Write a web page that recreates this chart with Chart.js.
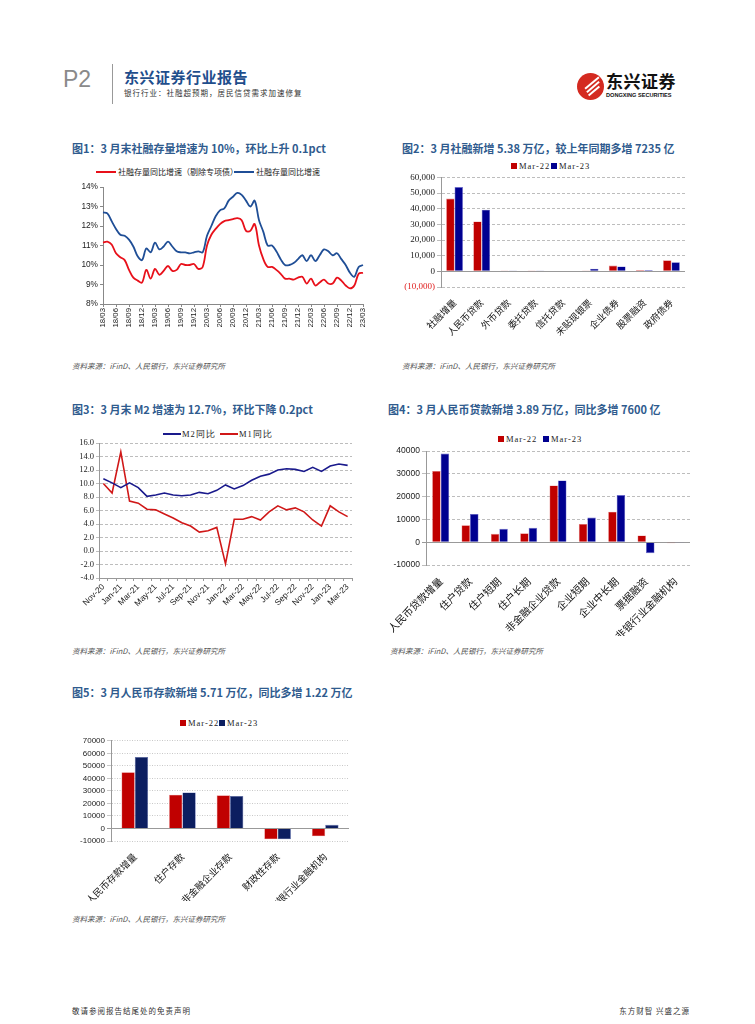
<!DOCTYPE html>
<html>
<head>
<meta charset="utf-8">
<script src="https://cdn.jsdelivr.net/npm/chart.js@4.4.0/dist/chart.umd.min.js"></script>
<style>
body { margin:0; width:755px; height:1024px; background:#fff; position:relative; overflow:hidden;
       font-family:"Noto Sans CJK SC","Noto Sans",sans-serif; }
.title { position:absolute; color:#2F5B8E; font-weight:bold; font-size:11px; white-space:nowrap; line-height:1; }
.src { position:absolute; font-size:7.5px; color:#555; font-style:italic; white-space:nowrap; line-height:1; }
.box { position:absolute; }
.leg { position:absolute; font-size:8px; color:#222; white-space:nowrap; line-height:1; }
.legSer { position:absolute; font-family:"Liberation Serif",serif; font-size:8.5px; letter-spacing:1px; color:#222; white-space:nowrap; line-height:1; }
.sw { position:absolute; }
</style>
</head>
<body>

<!-- header -->
<div style="position:absolute;left:63px;top:66px;font-family:'Liberation Sans',sans-serif;font-size:23px;color:#8a8a8a;">P2</div>
<div style="position:absolute;left:112px;top:64px;width:1px;height:40px;background:#999;"></div>
<div style="position:absolute;left:124px;top:69px;font-size:15px;font-weight:bold;color:#1F4E8C;letter-spacing:0.5px;line-height:1;">东兴证券行业报告</div>
<div style="position:absolute;left:124px;top:89px;font-size:7.5px;color:#333;letter-spacing:1px;line-height:1;">银行行业：社融超预期，居民信贷需求加速修复</div>
<div style="position:absolute;left:577px;top:73px;width:27px;height:27px;border-radius:50%;background:#D42A20;overflow:hidden;">
  <div style="position:absolute;left:6px;top:9px;width:18px;height:2px;background:#fff;transform:rotate(-40deg);"></div>
  <div style="position:absolute;left:8px;top:13px;width:16px;height:2px;background:#fff;transform:rotate(-40deg);"></div>
  <div style="position:absolute;left:10px;top:17px;width:14px;height:2px;background:#fff;transform:rotate(-40deg);"></div>
</div>
<div style="position:absolute;left:606px;top:72px;font-size:17px;font-weight:bold;color:#111;line-height:1;letter-spacing:0.5px;">东兴证券</div>
<div style="position:absolute;left:606px;top:93px;font-family:'Liberation Sans',sans-serif;font-size:5.6px;font-weight:bold;color:#111;line-height:1;">DONGXING SECURITIES</div>

<!-- chart 1 -->
<div class="title" style="left:72px;top:143px;">图1：3 月末社融存量增速为 10%，环比上升 0.1pct</div>
<div class="sw" style="left:96px;top:171px;width:20px;height:2px;background:#E8101A;"></div>
<div class="leg" style="left:118px;top:168px;">社融存量同比增速（剔除专项债）</div>
<div class="sw" style="left:234px;top:171px;width:20px;height:2px;background:#1F4E96;"></div>
<div class="leg" style="left:256px;top:168px;">社融存量同比增速</div>
<div class="box" style="left:60px;top:180px;width:315px;height:160px;"><canvas id="c1"></canvas></div>
<div class="src" style="left:72px;top:362px;">资料来源：iFinD、人民银行，东兴证券研究所</div>

<!-- chart 2 -->
<div class="title" style="left:402px;top:143px;">图2：3 月社融新增 5.38 万亿，较上年同期多增 7235 亿</div>
<div class="sw" style="left:511px;top:163px;width:6px;height:6px;background:#C00000;"></div>
<div class="legSer" style="left:519px;top:162px;">Mar-22</div>
<div class="sw" style="left:551px;top:163px;width:6px;height:6px;background:#000090;"></div>
<div class="legSer" style="left:559px;top:162px;">Mar-23</div>
<div class="box" style="left:380px;top:170px;width:330px;height:170px;"><canvas id="c2"></canvas></div>
<div class="src" style="left:402px;top:362px;">资料来源：iFinD、人民银行，东兴证券研究所</div>

<!-- chart 3 -->
<div class="title" style="left:72px;top:404px;">图3：3 月末 M2 增速为 12.7%，环比下降 0.2pct</div>
<div class="sw" style="left:163px;top:433px;width:18px;height:2px;background:#1A1A8C;"></div>
<div class="legSer" style="left:182px;top:430px;">M2同比</div>
<div class="sw" style="left:220px;top:433px;width:18px;height:2px;background:#D01818;"></div>
<div class="legSer" style="left:239px;top:430px;">M1同比</div>
<div class="box" style="left:60px;top:436px;width:315px;height:195px;"><canvas id="c3"></canvas></div>
<div class="src" style="left:72px;top:647px;">资料来源：iFinD、人民银行，东兴证券研究所</div>

<!-- chart 4 -->
<div class="title" style="left:388px;top:404px;">图4：3 月人民币贷款新增 3.89 万亿，同比多增 7600 亿</div>
<div class="sw" style="left:498px;top:436px;width:6px;height:6px;background:#C00000;"></div>
<div class="legSer" style="left:506px;top:435px;">Mar-22</div>
<div class="sw" style="left:543px;top:436px;width:6px;height:6px;background:#000090;"></div>
<div class="legSer" style="left:551px;top:435px;">Mar-23</div>
<div class="box" style="left:380px;top:444px;width:330px;height:195px;"><canvas id="c4"></canvas></div>
<div class="src" style="left:390px;top:647px;">资料来源：iFinD、人民银行，东兴证券研究所</div>

<!-- chart 5 -->
<div class="title" style="left:72px;top:687px;">图5：3 月人民币存款新增 5.71 万亿，同比多增 1.22 万亿</div>
<div class="sw" style="left:180px;top:720px;width:6px;height:6px;background:#C00000;"></div>
<div class="legSer" style="left:188px;top:719px;">Mar-22</div>
<div class="sw" style="left:219px;top:720px;width:6px;height:6px;background:#0C1E60;"></div>
<div class="legSer" style="left:227px;top:719px;">Mar-23</div>
<div class="box" style="left:60px;top:734px;width:315px;height:170px;"><canvas id="c5"></canvas></div>
<div class="src" style="left:72px;top:915px;">资料来源：iFinD、人民银行，东兴证券研究所</div>

<!-- footer -->
<div style="position:absolute;left:72px;top:1007px;font-size:7.5px;color:#333;letter-spacing:1px;line-height:1;">敬请参阅报告结尾处的免责声明</div>
<div style="position:absolute;right:65px;top:1007px;font-size:7.5px;color:#333;letter-spacing:1px;line-height:1;">东方财智 兴盛之源</div>

<script>
// ---- chart 1: 社融存量同比增速 ----
const months1 = ["18/03","18/04","18/05","18/06","18/07","18/08","18/09","18/10","18/11","18/12",
  "19/01","19/02","19/03","19/04","19/05","19/06","19/07","19/08","19/09","19/10","19/11","19/12",
  "20/01","20/02","20/03","20/04","20/05","20/06","20/07","20/08","20/09","20/10","20/11","20/12",
  "21/01","21/02","21/03","21/04","21/05","21/06","21/07","21/08","21/09","21/10","21/11","21/12",
  "22/01","22/02","22/03","22/04","22/05","22/06","22/07","22/08","22/09","22/10","22/11","22/12",
  "23/01","23/02","23/03"];
const tsfExSpecial = [11.15,11.2,11.05,10.6,10.4,10.25,9.75,9.35,9.2,9.1,
  9.75,9.3,9.8,9.5,9.7,9.95,9.7,9.75,10.05,10.0,
  10.0,10.05,9.8,9.9,11.0,11.55,11.85,12.1,12.25,12.3,
  12.35,12.4,12.3,11.75,11.75,12.1,11.0,10.3,9.9,9.9,
  9.75,9.55,9.3,9.3,9.25,9.35,9.4,9.05,9.3,8.95,
  9.1,9.25,9.05,9.05,9.35,9.2,8.95,8.8,8.95,9.55,9.6];
const tsfGrowth = [12.7,12.65,12.25,11.85,11.55,11.5,11.3,10.95,10.45,10.25,
  10.85,10.65,11.15,10.8,10.95,11.2,10.95,10.7,10.65,10.65,
  10.6,10.65,10.7,10.65,11.5,12.0,12.5,12.8,12.9,13.3,
  13.5,13.7,13.6,13.3,13.0,13.3,12.3,11.7,11.0,11.0,
  10.7,10.3,10.0,10.0,10.1,10.3,10.5,10.2,10.5,10.2,
  10.5,10.8,10.7,10.5,10.6,10.3,10.0,9.6,9.4,9.9,10.0];
const ticks1 = [8, 9, 10, 11, 12, 13, 14];

// ---- chart 2: 社融新增 ----
const cats2 = ["社融增量","人民币贷款","外币贷款","委托贷款","信托贷款","未贴现银票","企业债券","股票融资","政府债券"];
const tsfMar22 = [46500, 31900, 200, 100, -200, 200, 3700, 900, 7050];
const tsfMar23 = [53800, 39400, 600, 200, -200, 1700, 3100, 800, 5800];

// ---- chart 3: M2 / M1 ----
const months3 = ["Nov-20","Dec-20","Jan-21","Feb-21","Mar-21","Apr-21","May-21","Jun-21","Jul-21","Aug-21",
  "Sep-21","Oct-21","Nov-21","Dec-21","Jan-22","Feb-22","Mar-22","Apr-22","May-22","Jun-22","Jul-22",
  "Aug-22","Sep-22","Oct-22","Nov-22","Dec-22","Jan-23","Feb-23","Mar-23"];
const m2Yoy = [10.7,10.1,9.4,10.1,9.4,8.1,8.3,8.6,8.3,8.2,8.3,8.7,8.5,9.0,9.8,9.2,9.7,10.5,11.1,11.4,12.0,12.2,12.1,11.8,12.4,11.8,12.6,12.9,12.7];
const m1Yoy = [10.0,8.6,14.7,7.4,7.1,6.2,6.1,5.5,4.9,4.2,3.7,2.8,3.0,3.5,-1.9,4.7,4.7,5.1,4.6,5.8,6.7,6.1,6.4,5.8,4.6,3.7,6.7,5.8,5.1];

// ---- chart 4: 人民币贷款新增 ----
const cats4 = ["人民币贷款增量","住户贷款","住户短期","住户长期","非金融企业贷款","企业短期","企业中长期","票据融资","非银行业金融机构"];
const loanMar22 = [31300, 7500, 3700, 3900, 24900, 8000, 13400, 3000, -400];
const loanMar23 = [38900, 12400, 5900, 6300, 27100, 10800, 20700, -4800, -300];

// ---- chart 5: 人民币存款新增 ----
const cats5 = ["人民币存款增量","住户存款","非金融企业存款","财政性存款","非银行业金融机构"];
const depMar22 = [44900, 27000, 26500, -8700, -6300];
const depMar23 = [57100, 28800, 26000, -8600, 2900];

const RED = "#C00000", NAVY = "#000090";
const CJK = "'Noto Sans CJK SC', sans-serif";
const SANS = "'Liberation Sans', Arial, sans-serif";
const SERIF = "'Liberation Serif', 'Times New Roman', serif";

Chart.defaults.animation = false;
Chart.defaults.color = "#222";

function base(padding) {
    return {
        responsive: true,
        maintainAspectRatio: false,
        layout: { padding: padding },
        plugins: { legend: { display: false }, tooltip: { enabled: false } }
    };
}

// === Chart 1 ===
new Chart(document.getElementById("c1"), {
    type: "line",
    data: {
        labels: months1,
        datasets: [
            { data: tsfExSpecial, borderColor: "#E8101A", borderWidth: 1.8, pointRadius: 0, tension: 0.35 },
            { data: tsfGrowth, borderColor: "#1F4E96", borderWidth: 1.8, pointRadius: 0, tension: 0.35 }
        ]
    },
    options: {
        ...base({ left: 8, top: 7, right: 12, bottom: 6 }),
        scales: {
            x: {
                offset: false,
                afterFit: s => { s.height = 30; },
                grid: { drawOnChartArea: false, tickLength: 3,
                        color: c => (c.index % 3 === 0 ? "#888" : "rgba(0,0,0,0)") },
                border: { color: "#888" },
                ticks: { autoSkip: false, minRotation: 90, maxRotation: 90, padding: 1,
                         font: { family: SANS, size: 7.8 }, color: "#222",
                         callback: function (v, i) { return i % 3 === 0 ? months1[i] : ""; } }
            },
            y: {
                min: 8, max: 14,
                afterFit: s => { s.width = 35; },
                afterBuildTicks: s => { s.ticks = ticks1.map(v => ({ value: v })); },
                grid: { drawOnChartArea: false, tickLength: 3, color: "#888" },
                border: { color: "#888" },
                ticks: { autoSkip: false, padding: 2, font: { family: SANS, size: 8.3 }, color: "#222", callback: v => v + "%" }
            }
        }
    }
});

// === Chart 2 ===
new Chart(document.getElementById("c2"), {
    type: "bar",
    data: {
        labels: cats2,
        datasets: [
            { data: tsfMar22, backgroundColor: RED, borderColor: "#E68080", borderWidth: 0.6 },
            { data: tsfMar23, backgroundColor: NAVY, borderColor: "#6A6AD0", borderWidth: 0.6 }
        ]
    },
    options: {
        ...base({ left: 5, top: 5, right: 25, bottom: 3 }),
        datasets: { bar: { categoryPercentage: 0.62, barPercentage: 1.0 } },
        scales: {
            x: {
                afterFit: s => { s.height = 50; },
                grid: { display: false },
                border: { display: false },
                ticks: { autoSkip: false, minRotation: 45, maxRotation: 45, padding: 2,
                         font: { family: CJK, size: 9.3 }, color: "#111" }
            },
            y: {
                min: -10000, max: 60000,
                afterFit: s => { s.width = 56; },
                grid: { color: c => (c.tick && c.tick.value === 0 ? "#999" : "#BDBDBD"), tickLength: 4 },
                border: { color: "#999", dash: c => (c.tick && c.tick.value === 0 ? [] : [3, 2]) },
                ticks: { autoSkip: false, stepSize: 10000, padding: 2, font: { family: SERIF, size: 9 },
                         color: c => (c.tick.value < 0 ? "#E02020" : "#222"),
                         callback: v => v < 0 ? "(" + Math.abs(v).toLocaleString("en-US") + ")" : v.toLocaleString("en-US") }
            }
        }
    }
});

// === Chart 3 ===
new Chart(document.getElementById("c3"), {
    type: "line",
    data: {
        labels: months3,
        datasets: [
            { data: m2Yoy, borderColor: "#1A1A8C", borderWidth: 1.6, pointRadius: 0, tension: 0 },
            { data: m1Yoy, borderColor: "#D01818", borderWidth: 1.6, pointRadius: 0, tension: 0 }
        ]
    },
    options: {
        ...base({ left: 5, top: 6, right: 23, bottom: 3 }),
        scales: {
            x: {
                offset: true,
                afterFit: s => { s.height = 50; },
                grid: { drawOnChartArea: false, tickLength: 3, color: "#999", offset: true },
                border: { color: "#999" },
                ticks: { autoSkip: false, minRotation: 45, maxRotation: 45, padding: 1,
                         font: { family: SANS, size: 8.3 }, color: "#222",
                         callback: function (v, i) { return i % 2 === 0 ? months3[i] : ""; } }
            },
            y: {
                min: -4, max: 16,
                afterFit: s => { s.width = 34; },
                grid: { color: "#BDBDBD", tickLength: 3 },
                border: { color: "#999", dash: [3, 2] },
                ticks: { autoSkip: false, stepSize: 2, padding: 2, font: { family: SERIF, size: 8.5 }, color: "#222",
                         callback: v => v.toFixed(1) }
            }
        }
    }
});

// === Chart 4 ===
new Chart(document.getElementById("c4"), {
    type: "bar",
    data: {
        labels: cats4,
        datasets: [
            { data: loanMar22, backgroundColor: RED, borderColor: "#E68080", borderWidth: 0.6 },
            { data: loanMar23, backgroundColor: NAVY, borderColor: "#6A6AD0", borderWidth: 0.6 }
        ]
    },
    options: {
        ...base({ left: 4, top: 4, right: 20, bottom: 3 }),
        datasets: { bar: { categoryPercentage: 0.58, barPercentage: 1.0 } },
        scales: {
            x: {
                afterFit: s => { s.height = 71; },
                grid: { display: false },
                border: { display: false },
                ticks: { autoSkip: false, minRotation: 45, maxRotation: 45, padding: 2,
                         font: { family: CJK, size: 10.3 }, color: "#111" }
            },
            y: {
                min: -10000, max: 40000,
                afterFit: s => { s.width = 42; },
                grid: { color: c => (c.tick && c.tick.value === 0 ? "#999" : "#BDBDBD"), tickLength: 4 },
                border: { color: "#999", dash: c => (c.tick && c.tick.value === 0 ? [] : [3, 2]) },
                ticks: { autoSkip: false, stepSize: 10000, padding: 2, font: { family: SANS, size: 8.5 }, color: "#222",
                         callback: v => String(v) }
            }
        }
    }
});

// === Chart 5 ===
new Chart(document.getElementById("c5"), {
    type: "bar",
    data: {
        labels: cats5,
        datasets: [
            { data: depMar22, backgroundColor: RED, borderColor: "#E68080", borderWidth: 0.6 },
            { data: depMar23, backgroundColor: "#0C1E60", borderColor: "#5A6AB0", borderWidth: 0.6 }
        ]
    },
    options: {
        ...base({ left: 6, top: 5, right: 26, bottom: 3 }),
        datasets: { bar: { categoryPercentage: 0.56, barPercentage: 1.0 } },
        scales: {
            x: {
                afterFit: s => { s.height = 60; },
                grid: { display: false },
                border: { display: false },
                ticks: { autoSkip: false, minRotation: 45, maxRotation: 45, padding: 2,
                         font: { family: CJK, size: 9.5 }, color: "#111" }
            },
            y: {
                min: -10000, max: 70000,
                afterFit: s => { s.width = 45; },
                grid: { color: c => (c.tick && c.tick.value === 0 ? "#999" : "#C8C8C8"), tickLength: 4 },
                border: { color: "#999", dash: c => (c.tick && c.tick.value === 0 ? [] : [1, 1.5]) },
                ticks: { autoSkip: false, stepSize: 10000, padding: 2, font: { family: SANS, size: 8 }, color: "#222",
                         callback: v => String(v) }
            }
        }
    }
});
</script>
</body>
</html>
